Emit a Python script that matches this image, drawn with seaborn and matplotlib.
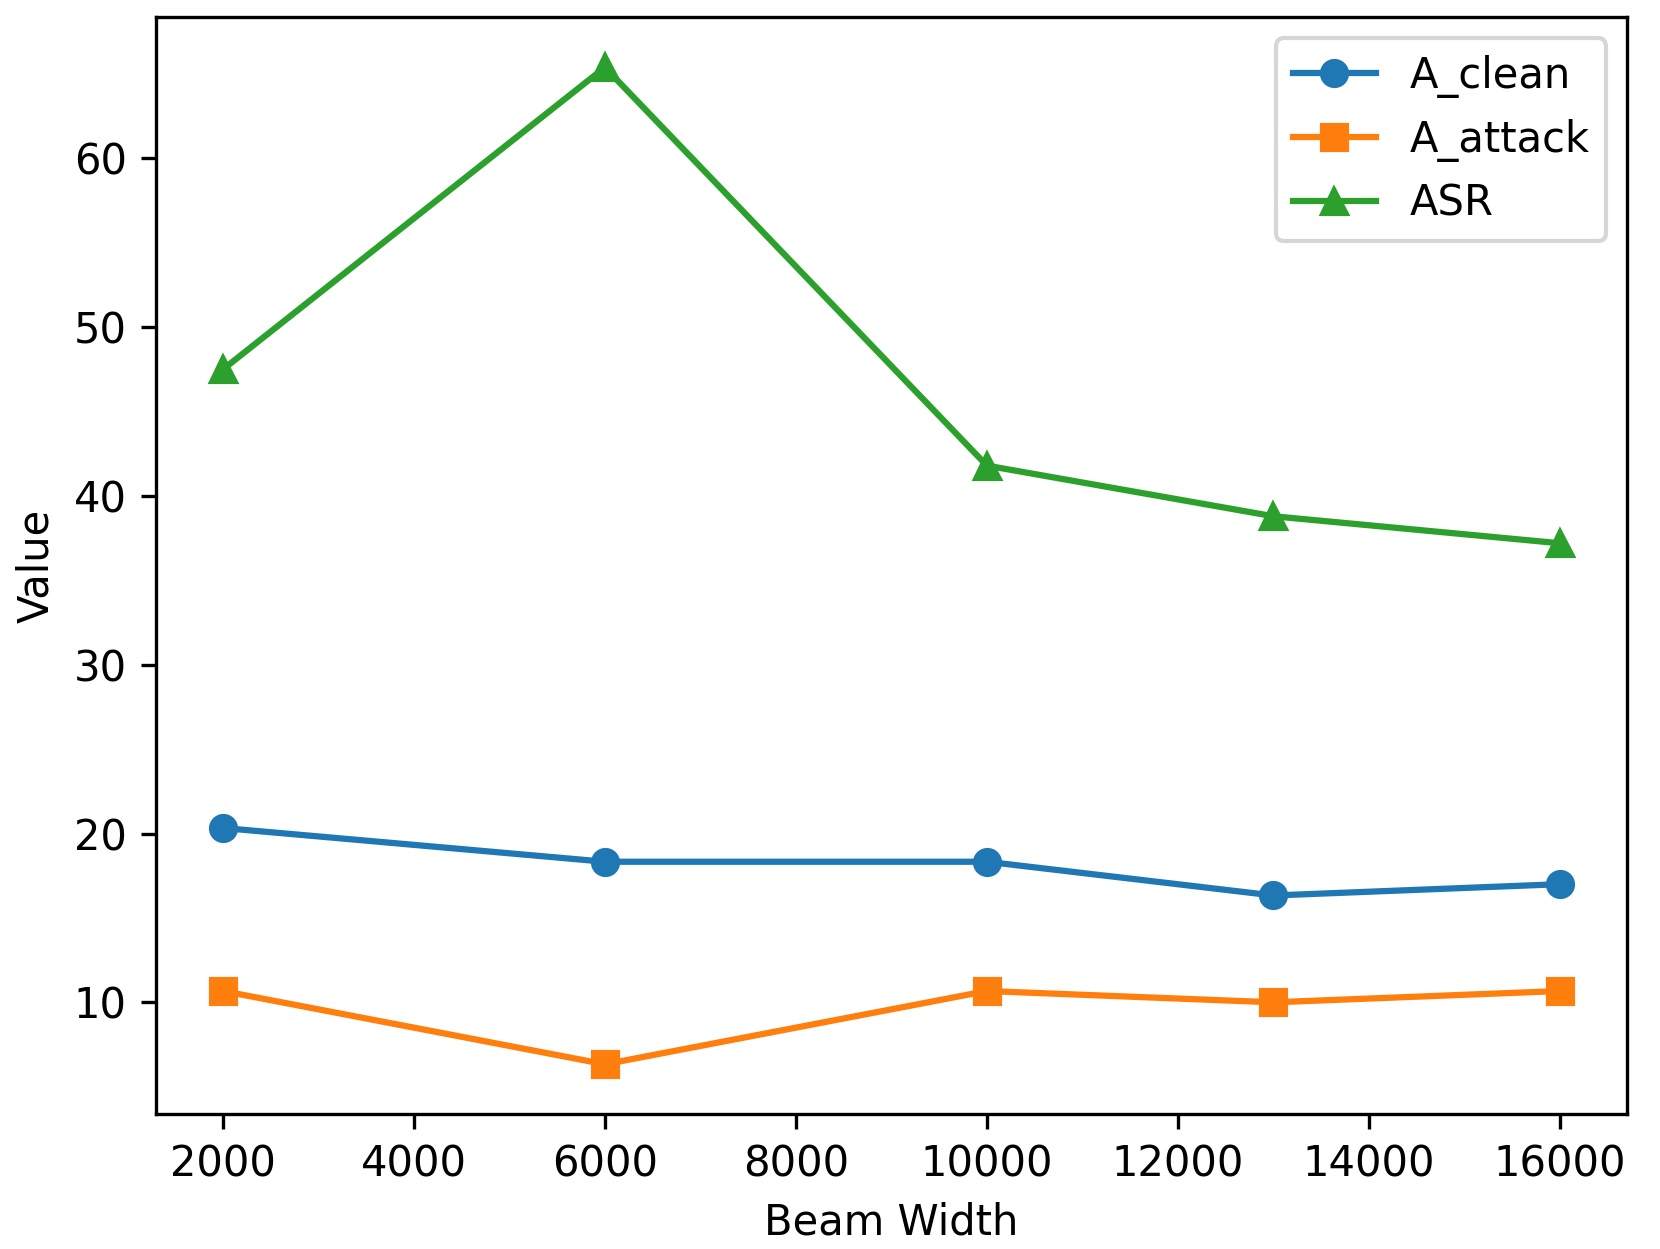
import pandas as pd
import seaborn as sns
from matplotlib import pyplot as plt

beam_width = [2000, 6000, 10000, 13000, 16000]
a_clean = [20.33, 18.33, 18.33, 16.33, 17.0]
a_attack = [10.67, 6.33, 10.67, 10.0, 10.67]
asr = [47.5, 65.4, 41.8, 38.8, 37.2]

series = ["A_clean", "A_attack", "ASR"]
markers = ["o", "s", "^"]
colors = ["#1f77b4", "#ff7f0e", "#2ca02c"]


def main():
    df = pd.DataFrame({
        "Beam Width": beam_width * 3,
        "Value": a_clean + a_attack + asr,
        "metric": [s for s in series for _ in beam_width],
    })

    fig, ax = plt.subplots(figsize=(1660 / 300, 1249 / 300), dpi=300)
    for name, m, c in zip(series, markers, colors):
        sns.lineplot(
            data=df[df["metric"] == name], x="Beam Width", y="Value",
            marker=m, color=c, markersize=6, markeredgecolor=c,
            markeredgewidth=1, linewidth=1.5, label=name, ax=ax,
        )
    ax.set_xticks([2000, 4000, 6000, 8000, 10000, 12000, 14000, 16000])
    ax.legend(loc="upper right")
    ax.set_xlabel("Beam Width")
    ax.set_ylabel("Value")
    fig.subplots_adjust(left=0.094, right=0.980, top=0.986, bottom=0.108)
    fig.savefig("out.png", dpi=300)


if __name__ == "__main__":
    main()
